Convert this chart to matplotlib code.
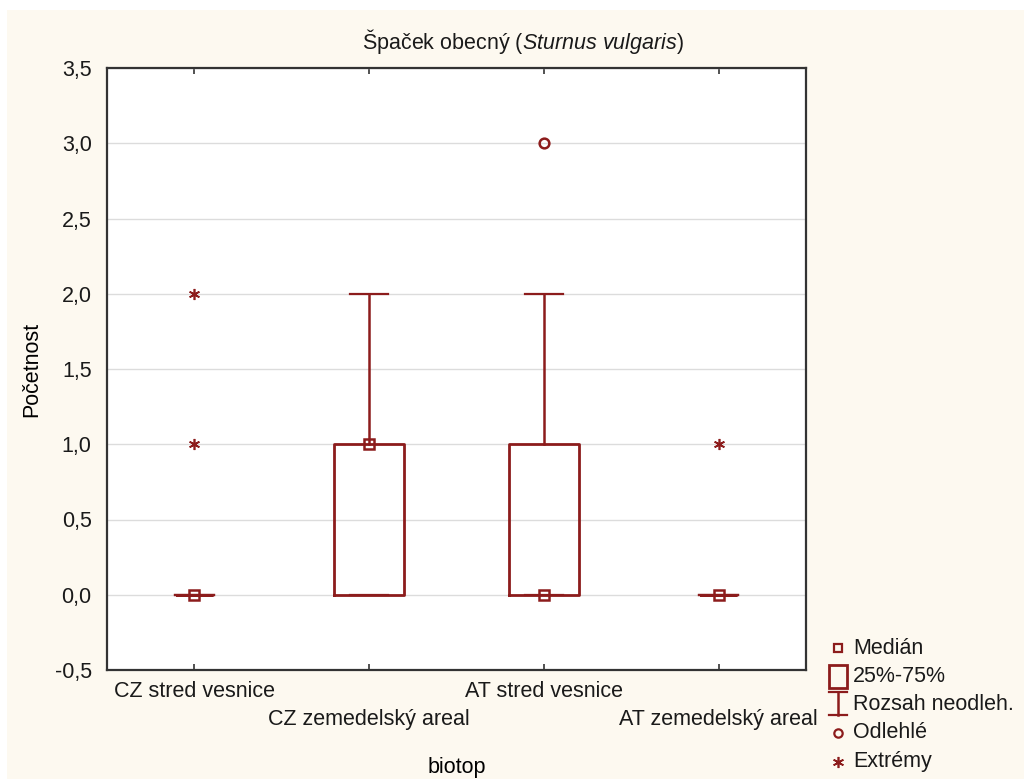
import matplotlib
matplotlib.use("Agg")
from matplotlib import pyplot as plt
from matplotlib.lines import Line2D
from matplotlib.patches import Rectangle

plt.rcParams['font.family'] = ['Liberation Sans', 'DejaVu Sans']
plt.rcParams['mathtext.fontset'] = 'custom'
plt.rcParams['mathtext.it'] = 'Liberation Sans:italic'
plt.rcParams['mathtext.rm'] = 'Liberation Sans'
plt.rcParams['text.color'] = '#1a1a1a'
plt.rcParams['xtick.labelcolor'] = '#1a1a1a'
plt.rcParams['ytick.labelcolor'] = '#1a1a1a'

# data
categories = ["CZ stred vesnice", "CZ zemedelský areal", "AT stred vesnice", "AT zemedelský areal"]
medians = [0, 1, 0, 0]
q1 = [0, 0, 0, 0]
q3 = [0, 1, 1, 0]
whisk_lo = [0, 0, 0, 0]
whisk_hi = [0, 2, 2, 0]
outliers = [[], [], [3], []]
extremes = [[1, 2], [], [], [1]]
yticks = [-0.5, 0.0, 0.5, 1.0, 1.5, 2.0, 2.5, 3.0, 3.5]

red = '#8c1c1c'
fs = 15.5

fig = plt.figure(figsize=(10.24, 7.79), dpi=100)
fig.patch.set_facecolor('white')
fig.add_artist(Rectangle((7 / 1024, 0), 1, 1 - 10 / 779, transform=fig.transFigure,
                         facecolor='#fdf9f0', edgecolor='none', zorder=-10))

ax = fig.add_axes([107 / 1024, 1 - 670 / 779, 699 / 1024, 602 / 779])
ax.set_facecolor('white')

stats = []
for i in range(len(categories)):
    stats.append(dict(med=medians[i], q1=q1[i], q3=q3[i], whislo=whisk_lo[i],
                      whishi=whisk_hi[i], fliers=[]))
widths = [0.4 if q3[i] > q1[i] else 0.2 for i in range(len(categories))]
pos = list(range(len(categories)))
ax.bxp(stats, positions=pos, widths=widths, capwidths=0.22, showfliers=False,
       boxprops=dict(color=red, linewidth=2.0),
       whiskerprops=dict(color=red, linewidth=1.8),
       capprops=dict(color=red, linewidth=1.6),
       medianprops=dict(linestyle='none'))
ax.plot(pos, medians, linestyle='none', marker='s', markersize=7, mfc='none',
        mec=red, mew=1.8, zorder=5)
for i in range(len(categories)):
    if outliers[i]:
        ax.plot([i] * len(outliers[i]), outliers[i], linestyle='none', marker='o',
                markersize=7, mfc='none', mec=red, mew=1.8, zorder=5)
    if extremes[i]:
        ax.plot([i] * len(extremes[i]), extremes[i], linestyle='none', marker=(6, 2, 0),
                markersize=8, color=red, mew=1.2, zorder=5)

ax.set_xlim(-0.5, 3.5)
ax.set_ylim(-0.5, 3.5)
ax.set_yticks(yticks)
ax.set_yticklabels([f"{v:.1f}".replace('.', ',') for v in yticks], fontsize=fs)
ax.set_xticks(pos)
ax.set_xticklabels([c if i % 2 == 0 else "\n" + c for i, c in enumerate(categories)],
                   fontsize=fs, linespacing=1.4)
ax.tick_params(axis='x', direction='in', top=True, length=4, width=1.2, color='#333333', pad=8)
ax.tick_params(axis='y', length=0, pad=11)
ax.yaxis.grid(True, color='#dcdcdc', linewidth=1)
ax.set_axisbelow(True)
for s in ax.spines.values():
    s.set_color('#333333')
    s.set_linewidth(1.6)

ax.set_xlabel("biotop", fontsize=fs, labelpad=20)
ax.set_ylabel("Početnost", fontsize=fs, labelpad=9)
fig.text(523 / 1024, 1 - 42 / 779, 'Špaček obecný ($\\it{Sturnus\\ vulgaris}$)',
         fontsize=fs, ha='center', va='center')

# legend drawn by hand at the right of the plot
tf = fig.transFigure
lx = 838 / 1024
tx = 853 / 1024
def fy(p):
    return 1 - p / 779

fig.add_artist(Line2D([lx], [fy(648)], transform=tf, marker='s', markersize=6, mfc='none',
                      mec=red, mew=1.6, linestyle='none'))
fig.add_artist(Rectangle((829 / 1024, fy(688)), 18 / 1024, 23 / 779, transform=tf,
                         facecolor='none', edgecolor=red, linewidth=2.0))
fig.add_artist(Line2D([lx, lx], [fy(692), fy(715)], transform=tf, color=red, linewidth=1.8))
fig.add_artist(Line2D([829 / 1024, 847 / 1024], [fy(692), fy(692)], transform=tf, color=red, linewidth=1.6))
fig.add_artist(Line2D([829 / 1024, 847 / 1024], [fy(715), fy(715)], transform=tf, color=red, linewidth=1.6))
fig.add_artist(Line2D([lx], [fy(733)], transform=tf, marker='o', markersize=6, mfc='none',
                      mec=red, mew=1.6, linestyle='none'))
fig.add_artist(Line2D([lx], [fy(762)], transform=tf, marker=(6, 2, 0), markersize=8,
                      color=red, mew=1.2, linestyle='none'))
leg_labels = ["Medián", "25%-75%", "Rozsah neodleh.", "Odlehlé", "Extrémy"]
leg_y = [648, 676, 705, 733, 762]
for lab, yy in zip(leg_labels, leg_y):
    fig.text(tx, fy(yy), lab, fontsize=fs, ha='left', va='center')

fig.savefig('out.png', dpi=100)
